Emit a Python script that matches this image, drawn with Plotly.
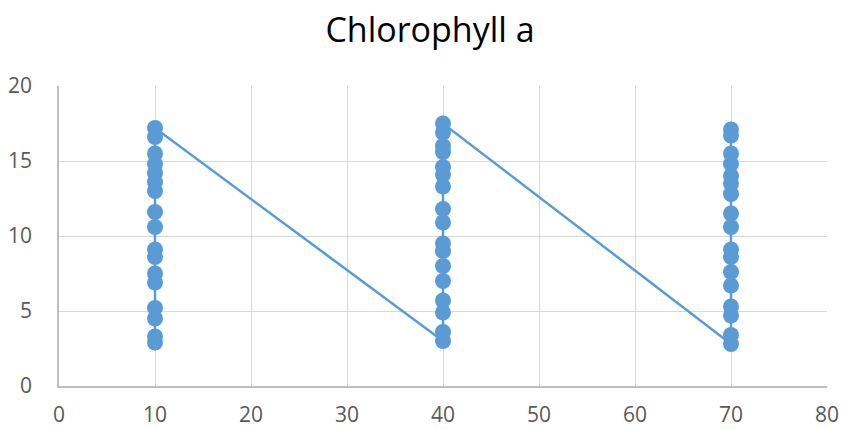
import plotly.graph_objects as go

x_groups = [10, 40, 70]
y_at_10 = [2.9, 3.3, 4.5, 5.2, 6.9, 7.5, 8.6, 9.1, 10.6, 11.6, 13.0, 13.6, 14.2, 14.8, 15.5, 16.6, 17.2]
y_at_40 = [3.0, 3.6, 4.9, 5.7, 7.0, 8.0, 9.0, 9.5, 10.9, 11.8, 13.3, 14.1, 14.6, 15.6, 16.0, 16.9, 17.5]
y_at_70 = [2.8, 3.4, 4.7, 5.3, 6.7, 7.6, 8.6, 9.1, 10.6, 11.5, 12.8, 13.5, 14.0, 14.8, 15.5, 16.7, 17.1]
x_ticks = [0, 10, 20, 30, 40, 50, 60, 70, 80]
y_ticks = [0, 5, 10, 15, 20]

xs, ys = [], []
for xv, yl in zip(x_groups, [y_at_10, y_at_40, y_at_70]):
    xs += [xv] * len(yl)
    ys += yl

fig = go.Figure(go.Scatter(
    x=xs, y=ys, mode="lines+markers",
    line=dict(color="#5B9BD5", width=2.5),
    marker=dict(color="#5B9BD5", size=16),
    showlegend=False,
))

fig.update_layout(
    width=842, height=429,
    margin=dict(l=59, r=15, t=86, b=43),
    paper_bgcolor="white", plot_bgcolor="white",
    title=dict(text="Chlorophyll a", x=430 / 842, xanchor="center", xref="container",
               y=1 - 30 / 429, yanchor="middle",
               font=dict(family="Open Sans, Noto Sans, sans-serif", size=34, color="#000000")),
    font=dict(family="Open Sans, Noto Sans, sans-serif", size=21, color="#595959"),
)
fig.update_xaxes(range=[0, 80], tickvals=x_ticks, showgrid=True, gridcolor="#D9D9D9", gridwidth=1,
                 zeroline=False, showline=True, linecolor="#BFBFBF", linewidth=1.5,
                 ticks="", ticklabelstandoff=9, automargin=False,
                 tickfont=dict(size=21, color="#595959"))
fig.update_yaxes(range=[0, 20], tickvals=y_ticks, showgrid=True, gridcolor="#D9D9D9", gridwidth=1,
                 zeroline=False, showline=True, linecolor="#BFBFBF", linewidth=1.5,
                 ticks="", ticklabelstandoff=21, automargin=False,
                 tickfont=dict(size=21, color="#595959"))

fig.write_html("out.html")
